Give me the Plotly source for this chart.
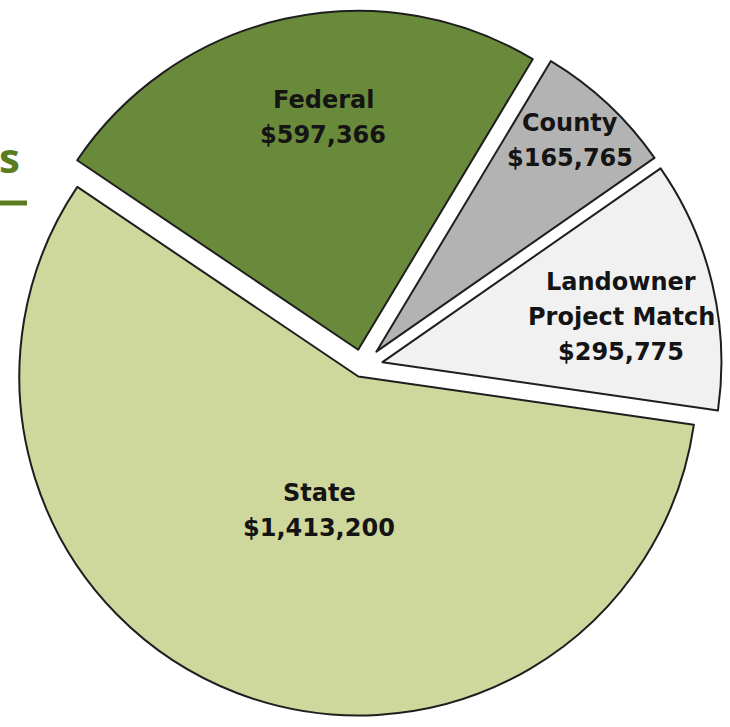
import plotly.graph_objects as go

# ---- data ----
categories = ["Federal", "County", "Landowner Project Match", "State"]
label_lines = [["Federal"], ["County"], ["Landowner", "Project Match"], ["State"]]
amounts = [597366, 165765, 295775, 1413200]
slice_colors = ["#6a8a3b", "#b3b3b3", "#f1f1f1", "#cfd89c"]
pulls = [0.052, 0.062, 0.062, 0.03]
title_fragment = "s"

W, H = 730, 727

# label anchor: centre x and centre y of first line, in pixels from top-left
label_px = [(323, 100), (570, 123), (621, 282), (319, 493)]
LINE_PITCH = 35

fig = go.Figure()
fig.add_trace(go.Pie(
    labels=categories,
    values=amounts,
    sort=False,
    direction="clockwise",
    rotation=-56,
    pull=pulls,
    marker=dict(colors=slice_colors, line=dict(color="#1e1e1e", width=2)),
    textinfo="none",
    hoverinfo="label+value",
    domain=dict(x=[0, 724 / W], y=[0, 720 / H]),
    showlegend=False,
))

for lines, val, (px, py) in zip(label_lines, amounts, label_px):
    all_lines = lines + [f"${val:,}"]
    for k, line in enumerate(all_lines):
        yy = py + k * LINE_PITCH
        fig.add_annotation(
            x=px / W, y=1 - yy / H, xref="paper", yref="paper",
            text=f"<b>{line}</b>", showarrow=False,
            font=dict(family="DejaVu Sans", size=24, color="#141414"),
            xanchor="center", yanchor="middle", align="center",
        )

# cropped title fragment and its underline
fig.add_annotation(
    x=0, y=1 - 156 / H, xref="paper", yref="paper",
    text=f"<b>{title_fragment}</b>", showarrow=False, xshift=-3,
    font=dict(family="Open Sans", size=42, color="#5b7d20"),
    xanchor="left", yanchor="middle",
)
fig.add_shape(type="line", xref="paper", yref="paper",
              x0=0, x1=27 / W, y0=1 - 203 / H, y1=1 - 203 / H,
              line=dict(color="#5b7d20", width=5))

fig.update_layout(
    width=W, height=H,
    margin=dict(l=0, r=0, t=0, b=0, pad=0),
    paper_bgcolor="white", plot_bgcolor="white",
)

# remove the browser's default 8px body margin so the figure fills the window
fig.write_html("out.html", config={"displayModeBar": False},
               post_script="document.body.style.margin='0';")
